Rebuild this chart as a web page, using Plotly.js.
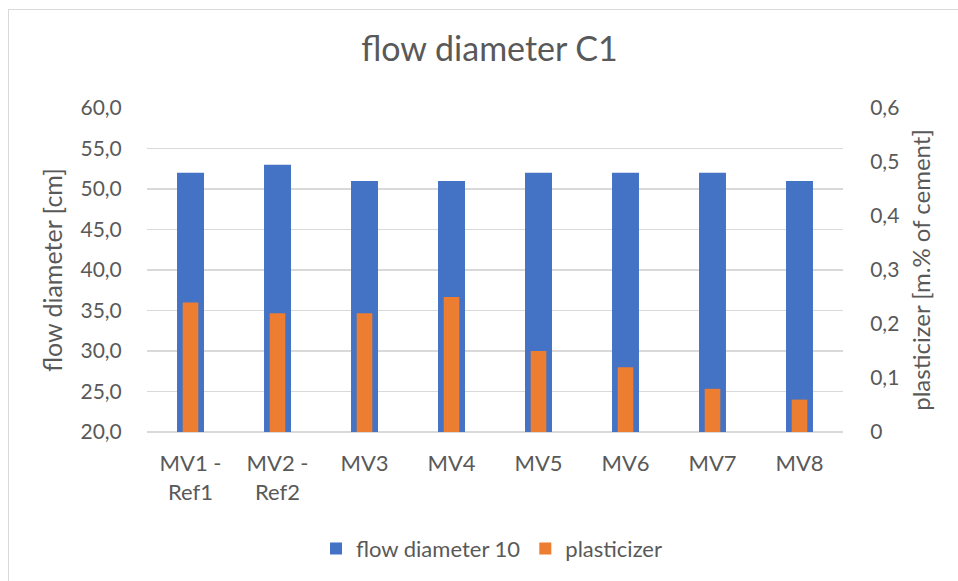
<!DOCTYPE html>
<html>
<head>
<meta charset="utf-8">
<script src="https://cdn.plot.ly/plotly-3.0.1.min.js"></script>
<style>
html,body{margin:0;padding:0;background:#fff;}
#wrap{position:relative;width:958px;height:581px;}
#chart{position:absolute;left:0;top:0;width:958px;height:581px;}
#frame{position:absolute;left:8px;top:9px;width:960px;height:590px;border-left:1.5px solid #d9d9d9;border-top:1.5px solid #d9d9d9;pointer-events:none;}
</style>
</head>
<body>
<div id="wrap"><div id="chart"></div><div id="frame"></div></div>
<script>
const categories = ["MV1 -<br>Ref1", "MV2 -<br>Ref2", "MV3", "MV4", "MV5", "MV6", "MV7", "MV8"];
const flowDiameter = [52, 53, 51, 51, 52, 52, 52, 51];
const plasticizer = [0.24, 0.22, 0.22, 0.25, 0.15, 0.12, 0.08, 0.06];
const leftTicks = [20, 25, 30, 35, 40, 45, 50, 55, 60];
const rightTicks = [0, 0.1, 0.2, 0.3, 0.4, 0.5, 0.6];

const fontFam = 'Lato, Carlito, Calibri, sans-serif';
const grey = '#595959';

const traces = [
  {type:'bar', name:'flow diameter 10', x:categories, y:flowDiameter,
   marker:{color:'#4472c4'}, width:0.31, yaxis:'y'},
  {type:'bar', name:'plasticizer', x:categories, y:plasticizer,
   marker:{color:'#ed7d31'}, width:0.18, yaxis:'y2'}
];

const layout = {
  width:958, height:581,
  margin:{l:147, r:115, t:108, b:149},
  paper_bgcolor:'rgba(0,0,0,0)', plot_bgcolor:'rgba(0,0,0,0)',
  separators:',.',
  font:{family:fontFam, color:grey, size:21},
  title:{text:'flow diameter C1', font:{family:fontFam, size:34, color:grey}, x:0.511, xanchor:'center', y:0.915, yanchor:'middle'},
  barmode:'overlay',
  showlegend:true,
  legend:{orientation:'h', x:0.495, xanchor:'center', y:-0.36, yanchor:'middle', font:{size:22, color:grey}, itemwidth:30, traceorder:'normal'},
  xaxis:{type:'category', showgrid:false, showline:false, zeroline:false,
         ticks:'outside', ticklen:12, tickcolor:'rgba(0,0,0,0)', tickfont:{size:22, color:grey}},
  yaxis:{range:[20, 60], tickvals:leftTicks, ticktext:leftTicks.map(v=>v.toFixed(1).replace('.', ',')),
         showgrid:true, gridcolor:'#d9d9d9', gridwidth:1.5, zeroline:false,
         showline:false, ticks:'outside', ticklen:20, tickcolor:'rgba(0,0,0,0)', tickfont:{size:21, color:grey},
         title:{text:'flow diameter [cm]', font:{size:25, color:grey}, standoff:10}},
  yaxis2:{range:[0, 0.6], overlaying:'y', side:'right', tickvals:rightTicks,
          ticktext:rightTicks.map(v=> v===0 ? '0' : String(v).replace('.', ',')),
          showgrid:false, zeroline:true, zerolinecolor:'#d9d9d9', zerolinewidth:1.5, showline:false,
          ticks:'outside', ticklen:22, tickcolor:'rgba(0,0,0,0)', tickfont:{size:21, color:grey},
          title:{text:'plasticizer [m.% of cement]', font:{size:24, color:grey}, standoff:14}}
};

Plotly.newPlot('chart', traces, layout, {displayModeBar:false, staticPlot:true});
</script>
</body>
</html>
